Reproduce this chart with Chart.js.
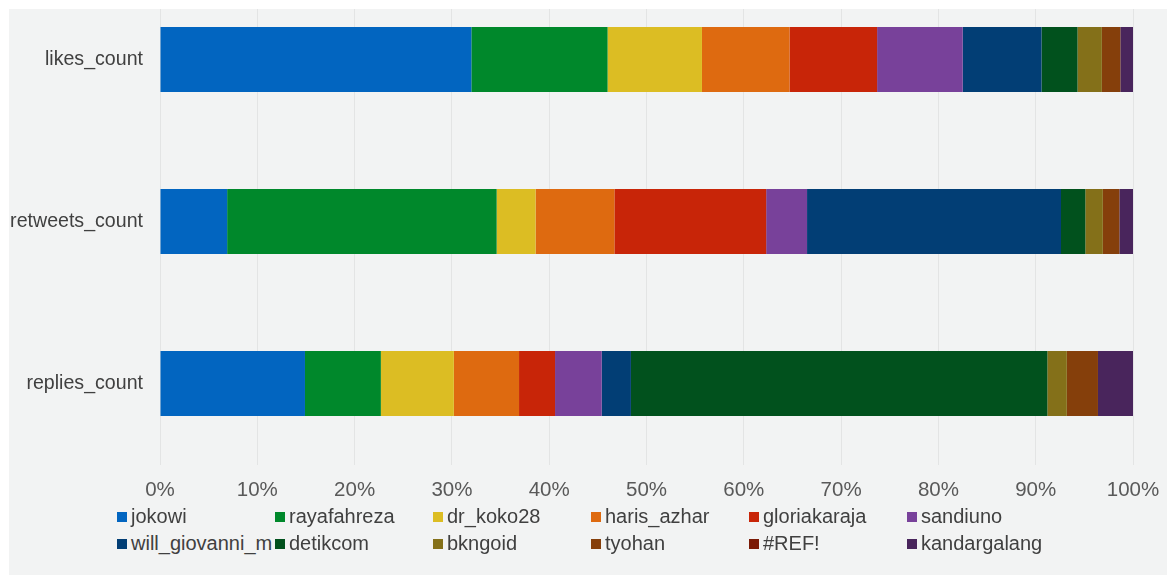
<!DOCTYPE html>
<html>
<head>
<meta charset="utf-8">
<script src="https://cdn.jsdelivr.net/npm/chart.js@4.4.1/dist/chart.umd.min.js"></script>
<style>
  body { margin: 0; background: #fff; width: 1167px; height: 575px; overflow: hidden; font-family: "Liberation Sans", Arial, sans-serif; }
  #frame { position: absolute; left: 9px; top: 9px; width: 1158px; height: 566px; background: #f2f3f3; overflow: hidden; }
  #wrap { position: absolute; left: 0; top: -40px; width: 1158px; height: 560px; }
  .item { position: absolute; height: 22px; line-height: 22px; font-size: 20px; color: #404040; white-space: nowrap; }
  .item span.box { display: inline-block; width: 10px; height: 10px; margin-right: 4px; vertical-align: 1px; }
</style>
</head>
<body>
<div id="frame">
  <div id="wrap"><canvas id="chart"></canvas></div>
  <div id="legend"></div>
</div>
<script>
// percent share of each account per metric
const categories = ["likes_count", "retweets_count", "replies_count"];
const accounts = ["jokowi", "rayafahreza", "dr_koko28", "haris_azhar", "gloriakaraja", "sandiuno",
  "will_giovanni_m", "detikcom", "bkngoid", "tyohan", "#REF!", "kandargalang"];
const jokowi = [32.0, 6.9, 14.9];
const rayafahreza = [14.0, 27.7, 7.8];
const dr_koko28 = [9.7, 4.0, 7.5];
const haris_azhar = [9.0, 8.1, 6.7];
const gloriakaraja = [9.0, 15.6, 3.7];
const sandiuno = [8.8, 4.2, 4.8];
const will_giovanni_m = [8.1, 26.1, 3.0];
const detikcom = [3.7, 2.5, 42.8];
const bkngoid = [2.5, 1.8, 2.0];
const tyohan = [1.9, 1.7, 3.2];
const ref = [0, 0, 0];
const kandargalang = [1.3, 1.4, 3.6];
const xTicks = [0, 10, 20, 30, 40, 50, 60, 70, 80, 90, 100];

const seriesValues = [jokowi, rayafahreza, dr_koko28, haris_azhar, gloriakaraja, sandiuno,
  will_giovanni_m, detikcom, bkngoid, tyohan, ref, kandargalang];
const colors = ["#0265c0", "#00882b", "#dcbd23", "#de6a10", "#c82508", "#78419a",
  "#023e75", "#01511d", "#847019", "#853f0b", "#7b1a06", "#49255c"];

const datasets = accounts.map((name, i) => ({
  label: name,
  data: seriesValues[i],
  backgroundColor: colors[i],
  borderWidth: 0,
  categoryPercentage: 1,
  barPercentage: 0.401,
}));

// legend as html, two rows of six
const legend = document.getElementById("legend");
accounts.forEach((name, i) => {
  const el = document.createElement("div");
  el.className = "item";
  el.style.left = (108 + (i % 6) * 158) + "px";
  el.style.top = (496 + Math.floor(i / 6) * 27) + "px";
  el.innerHTML = '<span class="box" style="background:' + colors[i] + '"></span>';
  el.appendChild(document.createTextNode(name));
  legend.appendChild(el);
});

new Chart(document.getElementById("chart"), {
  type: "bar",
  data: { labels: categories, datasets: datasets },
  options: {
    indexAxis: "y",
    responsive: true,
    maintainAspectRatio: false,
    animation: false,
    layout: { padding: { top: 9.5, bottom: 24.5, left: 0, right: 34 } },
    plugins: { legend: { display: false }, tooltip: { enabled: false } },
    scales: {
      x: {
        stacked: true,
        min: 0,
        max: 100,
        afterBuildTicks: (scale) => { scale.ticks = xTicks.map((v) => ({ value: v })); },
        afterFit: (scale) => {
          scale.height = 40;
          scale.paddingLeft = 0;
          scale.paddingRight = 0;
        },
        grid: { color: "#e3e4e4", lineWidth: 1, drawTicks: false },
        border: { display: false },
        ticks: {
          padding: 14,
          color: "#595959",
          font: { family: "'Liberation Sans', Arial, sans-serif", size: 20.5 },
          callback: (v) => v + "%",
        },
      },
      y: {
        stacked: true,
        afterFit: (scale) => {
          scale.width = 151;
          scale.paddingTop = 0;
          scale.paddingBottom = 0;
        },
        grid: { display: false, drawTicks: false },
        border: { display: false },
        ticks: {
          padding: 17,
          color: "#404040",
          font: { family: "'Liberation Sans', Arial, sans-serif", size: 19.6 },
        },
      },
    },
  },
});
</script>
</body>
</html>
